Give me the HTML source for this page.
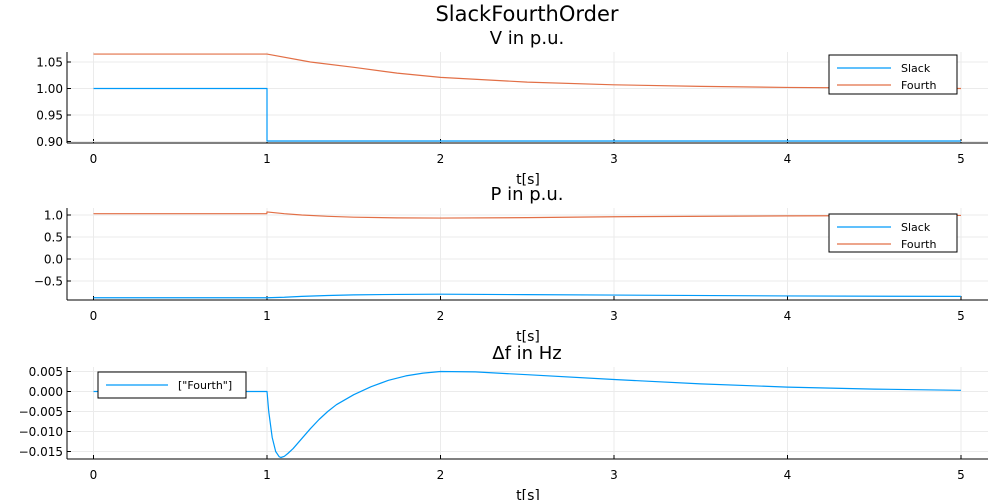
<!DOCTYPE html>
<html><head><meta charset="utf-8"><style>
body{margin:0;background:#fff;font-family:"DejaVu Sans","Liberation Sans",sans-serif}
svg text{font-family:"DejaVu Sans","Liberation Sans",sans-serif;fill:#000}
</style></head><body>
<svg id="c" width="1000" height="500" xmlns="http://www.w3.org/2000/svg"></svg>
<script>
const vT=[0,0.999,1,1.25,1.5,1.75,2,2.5,3,3.5,4,4.5,5];
const vFourth=[1.065,1.065,1.065,1.05,1.04,1.029,1.021,1.012,1.007,1.004,1.002,1.001,1.0];
const vSlackT=[0,1,1,5];
const vSlack=[1.0,1.0,0.901,0.901];
const pT=[0,0.999,1,1.1,1.2,1.35,1.5,1.75,2,2.5,3,4,5];
const pFourth=[1.03,1.03,1.07,1.03,1.0,0.97,0.95,0.935,0.93,0.94,0.96,0.98,0.99];
const pSlack=[-0.88,-0.88,-0.88,-0.87,-0.85,-0.83,-0.815,-0.805,-0.80,-0.81,-0.82,-0.84,-0.85];
const fT=[0,1,1.01,1.03,1.05,1.07,1.08,1.1,1.12,1.15,1.2,1.25,1.3,1.35,1.4,1.5,1.6,1.7,1.8,1.9,2,2.2,2.5,3,3.5,4,4.5,5];
const fFourth=[0,0,-0.005,-0.0115,-0.015,-0.0163,-0.0165,-0.0162,-0.0155,-0.0143,-0.0118,-0.0093,-0.007,-0.005,-0.0033,-0.0008,0.0012,0.0028,0.0039,0.0046,0.005,0.0049,0.0042,0.003,0.0019,0.0011,0.0006,0.0003];
const xTicks=[0,1,2,3,4,5];
const vTicks=[0.90,0.95,1.00,1.05];const vLabels=["0.90","0.95","1.00","1.05"];
const pTicks=[-0.5,0,0.5,1.0];const pLabels=["−0.5","0.0","0.5","1.0"];
const fTicks=[-0.015,-0.010,-0.005,0,0.005];const fLabels=["−0.015","−0.010","−0.005","0.000","0.005"];
const NS="http://www.w3.org/2000/svg",svg=document.getElementById('c');
function mk(t,a,p){const e=document.createElementNS(NS,t);for(const k in a)e.setAttribute(k,a[k]);(p||svg).appendChild(e);return e;}
const X=t=>93.5+t*173.5;
function txt(x,y,s,size,anchor,name){const e=mk('text',{x:x,y:y,'font-size':size,'text-anchor':anchor});e.textContent=s;

return e;}
txt(527,21,"SlackFourthOrder",21,"middle","main-title");
function panel(o){
 const Y=v=>o.y0+(v-o.v0)*(o.y1-o.y0)/(o.v1-o.v0);
 const g=mk('g',{});
 
 
 xTicks.forEach(t=>{mk('line',{x1:X(t),x2:X(t),y1:o.top,y2:o.bot,stroke:'#ebebeb'},g);
  mk('line',{x1:X(t),x2:X(t),y1:o.bot,y2:o.bot-4,stroke:'#000'},g);
  const e=txt(X(t),o.bot+20,String(t),12,"middle","x-tick-label");g.appendChild(e);});
 o.yt.forEach((v,i)=>{mk('line',{x1:67,x2:988,y1:Y(v),y2:Y(v),stroke:'#ebebeb'},g);
  mk('line',{x1:67,x2:71,y1:Y(v),y2:Y(v),stroke:'#000'},g);
  const e=txt(63,Y(v)+4.5,o.yl[i],12,"end","y-tick-label");g.appendChild(e);});
 mk('line',{x1:67,x2:67,y1:o.top,y2:o.bot,stroke:'#000'},g);
 mk('line',{x1:67,x2:988,y1:o.bot,y2:o.bot,stroke:'#000'},g);
 o.series.forEach(s=>{const p=mk('polyline',{points:s.t.map((t,i)=>X(t)+','+Y(s.v[i])).join(' '),fill:'none',stroke:s.c,'stroke-width':1.2,'stroke-linejoin':'round'},g);
  
  });
 const tt=txt(527,o.top-8,o.title,18,"middle","subplot-title");g.appendChild(tt);
 const xl=txt(528,o.bot+41,"t[s]",14,"middle","x-axis-title");g.appendChild(xl);
 const L=o.leg,lg=mk('g',{},g);
 
 
 mk('rect',{x:L.x,y:L.y,width:L.w,height:L.h,fill:'#fff',stroke:'#000'},lg);
 L.items.forEach((it,i)=>{const yy=L.y+13+i*17;mk('line',{x1:L.x+8,x2:L.x+L.lw,y1:yy,y2:yy,stroke:it.c,'stroke-width':1.2},lg);
  const e=txt(L.x+L.lw+10,yy+4,it.s,11,"start","legend-entry");lg.appendChild(e);});
}
const blue='#009af9',orange='#e26f46';
panel({name:'voltage-panel',top:52,bot:143,v0:1.0,y0:88.5,v1:1.05,y1:62,yt:vTicks,yl:vLabels,title:"V in p.u.",
 series:[{t:vSlackT,v:vSlack,c:blue,name:'v-slack-line'},{t:vT,v:vFourth,c:orange,name:'v-fourth-line'}],
 leg:{x:829,y:55,w:128,h:39,lw:62,items:[{s:"Slack",c:blue},{s:"Fourth",c:orange}]}});
panel({name:'power-panel',top:208,bot:300,v0:0,y0:259,v1:1,y1:215,yt:pTicks,yl:pLabels,title:"P in p.u.",
 series:[{t:pT,v:pSlack,c:blue,name:'p-slack-line'},{t:pT,v:pFourth,c:orange,name:'p-fourth-line'}],
 leg:{x:829,y:214,w:128,h:38,lw:62,items:[{s:"Slack",c:blue},{s:"Fourth",c:orange}]}});
panel({name:'frequency-panel',top:367,bot:459,v0:0,y0:391.5,v1:0.005,y1:371.5,yt:fTicks,yl:fLabels,title:"Δf in Hz",
 series:[{t:fT,v:fFourth,c:blue,name:'df-fourth-line'}],
 leg:{x:98,y:372,w:148,h:26,lw:70,items:[{s:'["Fourth"]',c:blue}]}});
</script>
</body></html>
